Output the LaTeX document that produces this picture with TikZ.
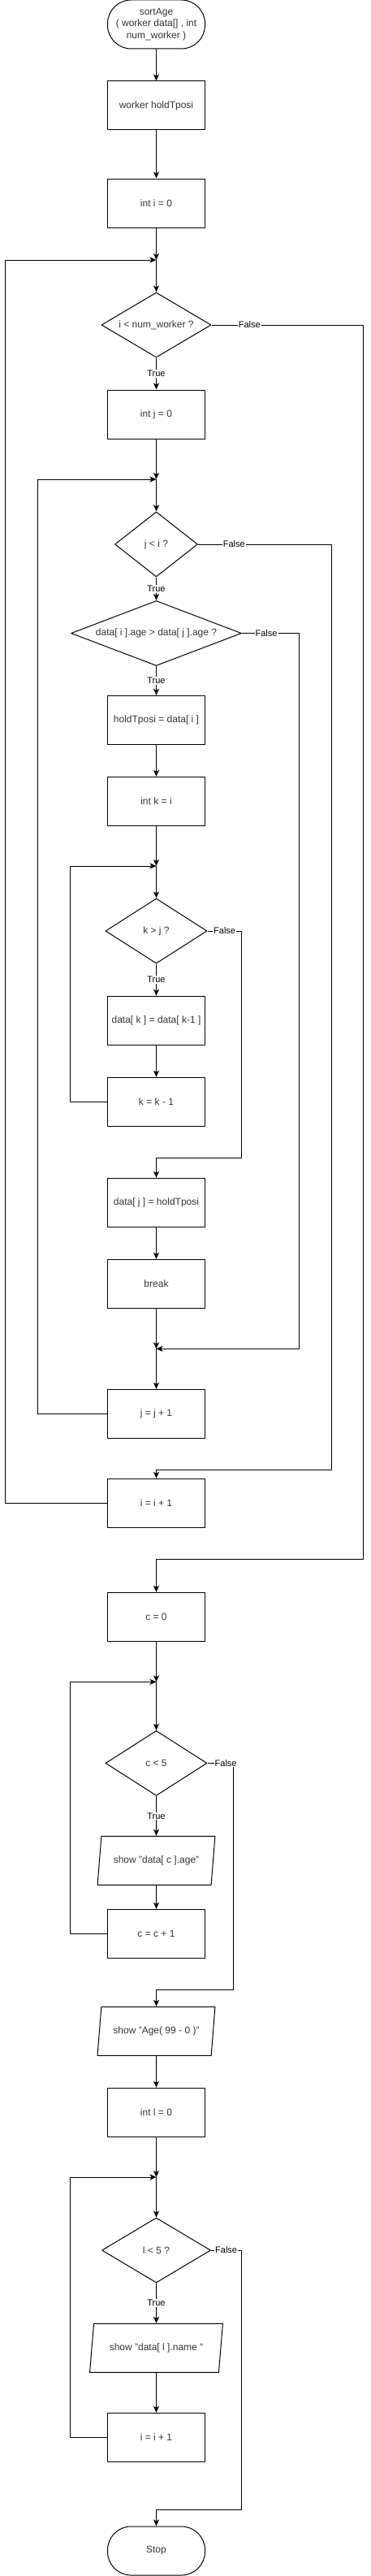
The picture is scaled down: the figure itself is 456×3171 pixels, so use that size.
\documentclass[tikz,border=0pt]{standalone}
\usepackage{fontspec}
\setmainfont{Liberation Sans}
\usetikzlibrary{shapes.geometric,arrows.meta}
\tikzset{
	proc/.style={draw, minimum width=120pt, minimum height=60pt, inner sep=0pt},
	term/.style={proc, rounded corners=29pt, align=center},
	cond/.style={draw, diamond, inner sep=0pt, minimum height=80pt},
	io/.style={draw, trapezium, trapezium left angle=71.57, trapezium right angle=108.43, trapezium stretches=true, minimum height=60pt, inner sep=0pt},
	lbl/.style={fill=white, text=black, inner sep=1pt, font=\fontsize{11}{13}\selectfont}
}
\begin{document}
\begin{tikzpicture}[>={Stealth[length=8pt,width=7pt,inset=2pt]}, x=1pt, y=-1pt, line width=1pt, line join=round, font=\fontsize{12}{14.4}\selectfont, text=black!80]
	\def\cx{192.5} % truc giua
	\useasboundingbox (0,0) rectangle (456,3171);
	% cac khoi
	\node[term] (start) at (\cx,30) {sortAge\\( worker data[] , int\\num\_worker )};
	\node[proc] (decl) at (\cx,130) {worker holdTposi};
	\node[proc] (initI) at (\cx,250) {int i = 0};
	\coordinate (mI) at (\cx,320);
	\node[cond, minimum width=135pt, aspect=1.7] (condI) at (\cx,400) {i < num\_worker ?};
	\node[proc] (initJ) at (\cx,510) {int j = 0};
	\coordinate (mJ) at (\cx,590);
	\node[cond, minimum width=102pt, aspect=1.3] (condJ) at (\cx,670) {j < i ?};
	\node[cond, minimum width=210pt, aspect=2.6] (condAge) at (\cx,779.5) {data[ i ].age > data[ j ].age ?};
	\node[proc] (hold) at (\cx,886.3) {holdTposi = data[ i ]};
	\node[proc] (initK) at (\cx,986.3) {int k = i};
	\coordinate (mK) at (\cx,1066);
	\node[cond, minimum width=125pt, aspect=1.6] (condK) at (\cx,1146) {k > j ?};
	\node[proc] (shift) at (\cx,1256.3) {data[ k ] = data[ k-1 ]};
	\node[proc] (decK) at (\cx,1356.3) {k = k - 1};
	\node[proc] (put) at (\cx,1480.3) {data[ j ] = holdTposi};
	\node[proc] (brk) at (\cx,1580.3) {break};
	\coordinate (mBrk) at (\cx,1660.3);
	\node[proc] (incJ) at (\cx,1740.3) {j = j + 1};
	\node[proc] (incI) at (\cx,1850.3) {i = i + 1};
	\node[proc] (initC) at (\cx,1990.3) {c = 0};
	\coordinate (mC) at (\cx,2070.3);
	\node[cond, minimum width=125pt, aspect=1.6] (condC) at (\cx,2170.4) {c < 5};
	\node[io, minimum width=145pt] (showAge) at (\cx,2290.3) {show "data[ c ].age"};
	\node[proc] (incC) at (\cx,2380.3) {c = c + 1};
	\node[io, minimum width=145pt] (showRange) at (\cx,2500.3) {show "Age( 99 - 0 )"};
	\node[proc] (initL) at (\cx,2600.3) {int l = 0};
	\coordinate (mL) at (\cx,2680);
	\node[cond, minimum width=134pt, aspect=1.7] (condL) at (\cx,2770) {l < 5 ?};
	\node[io, minimum width=164pt] (showName) at (\cx,2890.3) {show "data[ l ].name "};
	\node[proc] (incL) at (\cx,3000.3) {i = i + 1};
	\node[term] (stop) at (\cx,3140) {Stop};
	% duong thang
	\draw[->] (start) -- (decl);
	\draw[->] (decl) -- (initI);
	\draw[->] (initI) -- (mI);
	\draw[->] (mI) -- (condI);
	\draw[->] (condI) -- node[lbl]{True} (initJ);
	\draw[->] (initJ) -- (mJ);
	\draw[->] (mJ) -- (condJ);
	\draw[->] (condJ) -- node[lbl]{True} (condAge);
	\draw[->] (condAge) -- node[lbl]{True} (hold);
	\draw[->] (hold) -- (initK);
	\draw[->] (initK) -- (mK);
	\draw[->] (mK) -- (condK);
	\draw[->] (condK) -- node[lbl]{True} (shift);
	\draw[->] (shift) -- (decK);
	\draw[->] (put) -- (brk);
	\draw[->] (brk) -- (mBrk);
	\draw[->] (mBrk) -- (incJ);
	\draw[->] (initC) -- (mC);
	\draw[->] (mC) -- (condC);
	\draw[->] (condC) -- node[lbl]{True} (showAge.north);
	\draw[->] (showAge.south) -- (incC);
	\draw[->] (showRange.south) -- (initL);
	\draw[->] (initL) -- (mL);
	\draw[->] (mL) -- (condL);
	\draw[->] (condL) -- node[lbl]{True} (showName.north);
	\draw[->] (showName.south) -- (incL);
	% vong lap
	\draw[->] (incI.west) -- ++(-125.4,0) |- (mI);
	\draw[->] (incJ.west) -- ++(-85.4,0) |- (mJ);
	\draw[->] (decK.west) -- ++(-45.4,0) |- (mK);
	\draw[->] (incC.west) -- ++(-45.4,0) |- (mC);
	\draw[->] (incL.west) -- ++(-45.4,0) |- (mL);
	% nhanh False
	\draw[->] (condI.east) -- node[lbl,pos=.25]{False} ++(187,0) |- ([yshift=40pt]initC.north) -- (initC);
	\draw[->] (condJ.east) -- node[lbl,pos=.27]{False} ++(164,0) |- ([yshift=10pt]incI.north) -- (incI);
	\draw[->] (condAge.east) -- node[lbl,pos=.43]{False} ++(70,0) |- (mBrk);
	\draw[->] (condK.east) -- node[lbl]{False} ++(42.3,0) |- ([yshift=24pt]put.north) -- (put);
	\draw[->] (condC.east) -- node[lbl,pos=.7]{False} ++(32.3,0) |- ([yshift=20pt]showRange.north) -- (showRange.north);
	\draw[->] (condL.east) -- node[lbl]{False} ++(37.3,0) |- ([yshift=20pt]stop.north) -- (stop);
\end{tikzpicture}
\end{document}
